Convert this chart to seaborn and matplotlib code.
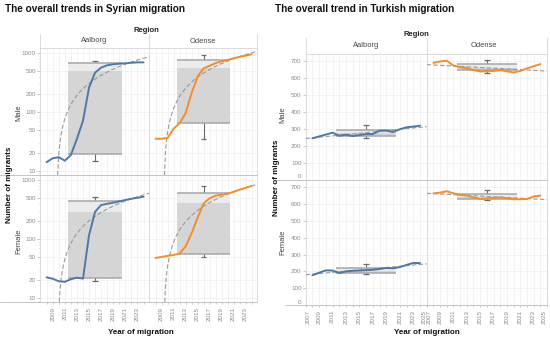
import numpy as np
import pandas as pd
import matplotlib
matplotlib.use("Agg")
import matplotlib.pyplot as plt
import seaborn as sns
from matplotlib.lines import Line2D
from matplotlib.ticker import FixedLocator, FuncFormatter, LogLocator, NullFormatter

# ---------------- data ----------------
years = list(range(2008, 2025))

syr_aalborg_male = [14, 16.3, 17, 14.8, 18.5, 35, 71, 260, 470, 570, 625, 650, 665, 675, 690, 700, 700]
syr_odense_male = [35, 35, 36, 52, 64, 95, 210, 400, 555, 610, 680, 730, 770, 820, 870, 910, 960]
syr_aalborg_female = [22.6, 21.4, 19.4, 19, 21, 22.3, 21.5, 117, 290, 377, 395, 412, 435, 457, 480, 500, 520]
syr_odense_female = [48, 50, 52, 54, 57, 75, 125, 230, 400, 490, 540, 565, 585, 630, 680, 735, 790]

tur_aalborg_male = [243, 254, 265, 276, 258, 264, 256, 262, 268, 268, 288, 288, 280, 296, 308, 312, 317]
tur_odense_male = [688, 696, 700, 672, 662, 657, 645, 637, 638, 640, 645, 638, 631, 640, 655, 668, 680]
tur_aalborg_female = [177, 192, 206, 205, 190, 200, 203, 205, 207, 209, 214, 220, 218, 225, 238, 250, 249]
tur_odense_female = [663, 668, 676, 664, 654, 650, 640, 630, 633, 636, 640, 634, 628, 629, 630, 645, 650]

# box summaries: [lower whisker, Q1, median, Q3, upper whisker]
syr_aalborg_male_box = [14.5, 19.2, 505, 670, 748]
syr_odense_male_box = [35, 64, 569, 770, 935]
syr_aalborg_female_box = [19.6, 21.8, 284, 445, 520]
syr_odense_female_box = [49.9, 56.6, 407, 601, 790]
tur_aalborg_male_box = [243, 256, 272, 292, 321]
tur_odense_male_box = [627, 643, 660, 680, 706]
tur_aalborg_female_box = [185, 189, 205, 221, 241]
tur_odense_female_box = [624, 630, 644, 660, 684]
box_year = 2016

syr_ytick_values = [10, 20, 50, 100, 200, 500, 1000]
tur_ytick_values = [0, 100, 200, 300, 400, 500, 600, 700]
syr_xtick_years = list(range(2008, 2025))
tur_xtick_years = list(range(2007, 2026))

regions = ["Aalborg", "Odense"]
sexes = ["Male", "Female"]

# ---------------- style ----------------
sns.set_theme(style="white")
plt.rcParams["font.family"] = ["Liberation Sans", "DejaVu Sans"]

W, H = 550, 341
fig = plt.figure(figsize=(W / 100, H / 100), dpi=100)
fig.patch.set_facecolor("white")

BLUE = "#4e79a7"
ORANGE = "#f28e2b"
TICK_C = "#8a8a8a"
GRID_C = "#efefef"
SPINE_C = "#d4d4d4"
DIV_C = "#c4c4c4"


def add_ax(x0, y0, x1, y1):
    return fig.add_axes([x0 / W, 1 - y1 / H, (x1 - x0) / W, (y1 - y0) / H])


def ftext(x, y, s, **kw):
    fig.text(x / W, 1 - y / H, s, **kw)


def fline(xs, ys, color=DIV_C, lw=0.7):
    fig.add_artist(Line2D([x / W for x in xs], [1 - y / H for y in ys], color=color, lw=lw))


def draw_panel(ax, values, box, color, xlim, ylim, log, sex):
    ax.set_facecolor("white")
    if log:
        ax.set_yscale("log")
    ax.set_xlim(*xlim)
    ax.set_ylim(*ylim)
    lo, q1, med, q3, hi = box
    bw = 8.9
    # whisker
    ax.vlines(box_year, lo, hi, color="#6b6b6b", lw=0.8, zorder=2)
    ax.hlines([lo, hi], box_year - 0.45, box_year + 0.45, color="#6b6b6b", lw=0.9, zorder=2)
    # box
    ax.bar(box_year, q3 - med, bottom=med, width=bw, color="#ebebeb", zorder=3, linewidth=0)
    ax.bar(box_year, med - q1, bottom=q1, width=bw, color="#d5d5d5", zorder=3, linewidth=0)
    ax.hlines([q1, q3], box_year - bw / 2, box_year + bw / 2, color="#a6a6a6", lw=1.1, zorder=3)
    # trend
    sns.regplot(x=years, y=values, ax=ax, scatter=False, ci=None, truncate=False,
                line_kws=dict(color="#9a9a9a", lw=0.8, ls=(0, (4, 2)), zorder=4))
    # data line
    df = pd.DataFrame({"year": years, "migrants": values})
    sns.lineplot(data=df, x="year", y="migrants", ax=ax, color=color, lw=1.4,
                 legend=False, zorder=5)
    ax.set_xlim(*xlim)
    ax.set_ylim(*ylim)
    ax.set_xlabel("")
    ax.set_ylabel("")
    for sp in ax.spines.values():
        sp.set_color(SPINE_C)
        sp.set_linewidth(0.6)
    if sex == "Male":
        ax.spines["bottom"].set_visible(False)
    else:
        ax.spines["top"].set_visible(False)
        ax.spines["bottom"].set_visible(False)


def style_axes(ax, log, yticks, xticks, show_y, show_x, edge_labels):
    ax.xaxis.set_major_locator(FixedLocator(xticks))
    ax.xaxis.set_major_formatter(FuncFormatter(lambda v, p: f"{int(round(v))}" if int(round(v)) % 2 == 1 else ""))
    ax.yaxis.set_major_locator(FixedLocator(yticks))
    ax.yaxis.set_major_formatter(FuncFormatter(lambda v, p: f"{v:g}"))
    if log:
        ax.yaxis.set_minor_locator(LogLocator(base=10, subs=np.arange(2, 10)))
        ax.yaxis.set_minor_formatter(NullFormatter())
    ax.grid(True, which="major", axis="both", color=GRID_C, lw=0.5, zorder=0)
    ax.set_axisbelow(True)
    ax.tick_params(axis="y", which="both", left=show_y, labelleft=show_y, length=2,
                   width=0.5, color="#b0b0b0", labelsize=4.5, labelcolor=TICK_C, pad=1)
    ax.tick_params(axis="y", which="minor", length=1)
    ax.tick_params(axis="x", which="both", bottom=show_x, labelbottom=show_x, length=1.5,
                   width=0.5, color="#b0b0b0", labelsize=4.5, labelcolor=TICK_C,
                   labelrotation=90, pad=2)
    if show_x and edge_labels:
        labs = ax.get_xticklabels()
        labs[0].set_horizontalalignment("left")
        labs[-1].set_horizontalalignment("right")
    if show_y and not log:
        labs = ax.get_yticklabels()
        labs[0].set_verticalalignment("bottom")


# ---------------- Syrian ----------------
syr_vals = {("Aalborg", "Male"): syr_aalborg_male, ("Odense", "Male"): syr_odense_male,
            ("Aalborg", "Female"): syr_aalborg_female, ("Odense", "Female"): syr_odense_female}
syr_boxes = {("Aalborg", "Male"): syr_aalborg_male_box, ("Odense", "Male"): syr_odense_male_box,
             ("Aalborg", "Female"): syr_aalborg_female_box, ("Odense", "Female"): syr_odense_female_box}
syr_cols = {"Aalborg": (40, 149), "Odense": (149, 257)}
syr_rows = {"Male": (48, 175), "Female": (175, 302)}
syr_ylims = {"Male": (8.45, 1230), "Female": (8.66, 1210)}

for reg in regions:
    for sex in sexes:
        x0, x1 = syr_cols[reg]
        y0, y1 = syr_rows[sex]
        ax = add_ax(x0, y0, x1, y1)
        draw_panel(ax, syr_vals[(reg, sex)], syr_boxes[(reg, sex)],
                   BLUE if reg == "Aalborg" else ORANGE, (2006.9, 2024.9), syr_ylims[sex], True, sex)
        style_axes(ax, True, syr_ytick_values, syr_xtick_years,
                   reg == "Aalborg", sex == "Female", False)

ftext(5, 9, "The overall trends in Syrian migration", fontsize=7.2, fontweight="bold",
      ha="left", va="center", color="#111111")
ftext(146, 31, "Region", fontsize=5.5, fontweight="bold", ha="center", va="center", color="#222222")
ftext(94.5, 41, "Aalborg", fontsize=5.4, ha="center", va="center", color="#444444")
ftext(203, 41.5, "Odense", fontsize=5.4, ha="center", va="center", color="#444444")
ftext(19, 113, "Male", fontsize=5.5, rotation=90, ha="center", va="center", color="#444444")
ftext(19, 241, "Female", fontsize=5.5, rotation=90, ha="center", va="center", color="#444444")
ftext(10, 185, "Number of migrants", fontsize=5.8, fontweight="bold", rotation=90,
      ha="center", va="center", color="#111111")
ftext(141, 333, "Year of migration", fontsize=5.8, fontweight="bold", ha="center",
      va="center", color="#111111")
fline([0, 257], [175, 175])
fline([0, 257], [302, 302])
for xv in (40, 149, 257):
    fline([xv, xv], [34, 48], color=SPINE_C, lw=0.6)

# ---------------- Turkish ----------------
tur_vals = {("Aalborg", "Male"): tur_aalborg_male, ("Odense", "Male"): tur_odense_male,
            ("Aalborg", "Female"): tur_aalborg_female, ("Odense", "Female"): tur_odense_female}
tur_boxes = {("Aalborg", "Male"): tur_aalborg_male_box, ("Odense", "Male"): tur_odense_male_box,
             ("Aalborg", "Female"): tur_aalborg_female_box, ("Odense", "Female"): tur_odense_female_box}
tur_cols = {"Aalborg": (305.7, 426.7), "Odense": (426.7, 547)}
tur_rows = {"Male": (54, 179.5), "Female": (180.5, 305)}

for reg in regions:
    for sex in sexes:
        x0, x1 = tur_cols[reg]
        y0, y1 = tur_rows[sex]
        ax = add_ax(x0, y0, x1, y1)
        draw_panel(ax, tur_vals[(reg, sex)], tur_boxes[(reg, sex)],
                   BLUE if reg == "Aalborg" else ORANGE, (2007, 2025), (0, 740), False, sex)
        style_axes(ax, False, tur_ytick_values, tur_xtick_years,
                   reg == "Aalborg", sex == "Female", True)

ftext(275, 9, "The overall trend in Turkish migration", fontsize=7.2, fontweight="bold",
      ha="left", va="center", color="#111111")
ftext(416, 34, "Region", fontsize=5.5, fontweight="bold", ha="center", va="center", color="#222222")
ftext(366, 45.5, "Aalborg", fontsize=5.4, ha="center", va="center", color="#444444")
ftext(484, 45.5, "Odense", fontsize=5.4, ha="center", va="center", color="#444444")
ftext(283, 115, "Male", fontsize=5.5, rotation=90, ha="center", va="center", color="#444444")
ftext(283, 242, "Female", fontsize=5.5, rotation=90, ha="center", va="center", color="#444444")
ftext(277, 178, "Number of migrants", fontsize=5.8, fontweight="bold", rotation=90,
      ha="center", va="center", color="#111111")
ftext(427, 333, "Year of migration", fontsize=5.8, fontweight="bold", ha="center",
      va="center", color="#111111")
fline([275, 547], [180, 180])
fline([285, 547], [305, 305])
for xv in (305.7, 426.7, 547):
    fline([xv, xv], [38, 54], color=SPINE_C, lw=0.6)

fig.savefig("out.png", dpi=100, facecolor="white")
